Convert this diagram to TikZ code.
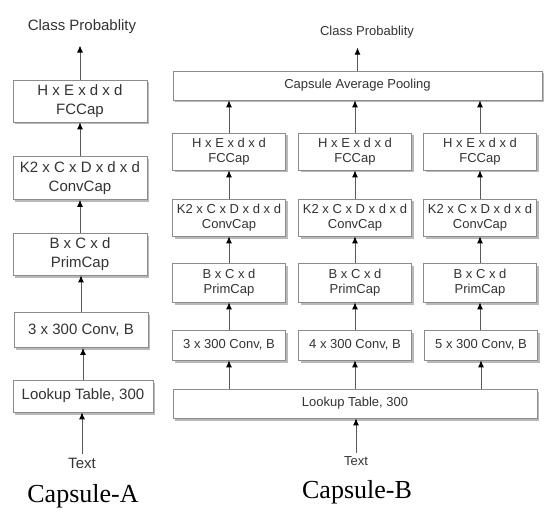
\documentclass[tikz,border=0pt]{standalone}
\usepackage{fontspec}
\setmainfont{Liberation Sans}
\newfontfamily\capsfont{Liberation Serif}
\usetikzlibrary{arrows.meta,shadows}

\begin{document}
\begin{tikzpicture}[x=1pt, y=-1pt]
	\tikzstyle{every node} = [text=black!80]
	\tikzstyle{capbox} = [draw=gray!90, line width=0.7pt, fill=white, align=center, inner sep=0pt, drop shadow={shadow xshift=2pt, shadow yshift=-2.5pt, fill=gray!55, opacity=1}]
	\tikzstyle{capA} = [capbox, font=\fontsize{15}{19}\selectfont, minimum width=134pt]
	\tikzstyle{capB} = [capbox, font=\fontsize{13}{15}\selectfont, minimum width=113pt]
	\tikzstyle{feed} = [-{Latex[length=7pt,width=6pt,color=black]}, draw=black!65, line width=0.9pt]
	\tikzstyle{capname} = [font=\capsfont\fontsize{26}{30}\selectfont, text=black]
	\path[use as bounding box, fill=white] (0,0) rectangle (546,513);
	% Capsule-A
	\node[font=\fontsize{15}{18}\selectfont] (probA) at (82,27) {Class Probablity};
	\node[capA, minimum height=42pt] (fcA) at (80,101) {H x E x d x d\\FCCap};
	\node[capA, minimum height=43pt] (ccA) at (80,178) {K2 x C x D x d x d\\ConvCap};
	\node[capA, minimum height=42pt] (pcA) at (80,254) {B x C x d\\PrimCap};
	\node[capA, minimum height=35pt] (convA) at (81,330) {3 x 300 Conv, B};
	\node[capA, minimum width=140pt, minimum height=32pt] (lookA) at (83,396) {Lookup Table, 300};
	\node[font=\fontsize{15}{18}\selectfont] (textA) at (82,463) {Text};
	\node[capname] (nameA) at (83,496) {Capsule-A};
	\draw[feed, shorten >=8pt] (fcA.north) -- (fcA.north |- probA.south);
	\draw[feed] (ccA.north) -- (fcA.south);
	\draw[feed] (pcA.north) -- (pcA.north |- ccA.south);
	\draw[feed] (convA.north) -- (convA.north |- pcA.south);
	\draw[feed] (lookA.north) -- (lookA.north |- convA.south);
	\draw[feed] (textA.north) -- (textA.north |- lookA.south);
	% Capsule-B
	\node[font=\fontsize{13}{15}\selectfont] (probB) at (367,32) {Class Probablity};
	\node[capB, minimum width=369pt, minimum height=29pt] (poolB) at (357.5,85.5) {Capsule Average Pooling};
	\node[capB, minimum height=37pt] (fcB1) at (229,151.5) {H x E x d x d\\FCCap};
	\node[capB, minimum height=37pt] (fcB2) at (355,151.5) {H x E x d x d\\FCCap};
	\node[capB, minimum height=37pt] (fcB3) at (480,151.5) {H x E x d x d\\FCCap};
	\node[capB, minimum height=37pt] (ccB1) at (229,217.5) {K2 x C x D x d x d\\ConvCap};
	\node[capB, minimum height=37pt] (ccB2) at (355,217.5) {K2 x C x D x d x d\\ConvCap};
	\node[capB, minimum height=37pt] (ccB3) at (480,217.5) {K2 x C x D x d x d\\ConvCap};
	\node[capB, minimum height=39pt] (pcB1) at (229,282.5) {B x C x d\\PrimCap};
	\node[capB, minimum height=39pt] (pcB2) at (355,282.5) {B x C x d\\PrimCap};
	\node[capB, minimum height=39pt] (pcB3) at (480,282.5) {B x C x d\\PrimCap};
	\node[capB, minimum height=30pt] (convB1) at (229,345) {3 x 300 Conv, B};
	\node[capB, minimum height=30pt] (convB2) at (355,345) {4 x 300 Conv, B};
	\node[capB, minimum height=30pt] (convB3) at (481,345) {5 x 300 Conv, B};
	\node[capB, minimum width=364pt, minimum height=29pt] (lookB) at (355,403.5) {Lookup Table, 300};
	\node[font=\fontsize{13}{15}\selectfont] (textB) at (356,461) {Text};
	\node[capname] (nameB) at (357,492) {Capsule-B};
	\draw[feed, shorten >=6pt] (poolB.north) -- (poolB.north |- probB.south);
	\draw[feed] (fcB1.north) -- (fcB1.north |- poolB.south);
	\draw[feed] (fcB2.north) -- (fcB2.north |- poolB.south);
	\draw[feed] (fcB3.north) -- (fcB3.north |- poolB.south);
	\draw[feed] (ccB1.north) -- (fcB1.south);
	\draw[feed] (ccB2.north) -- (fcB2.south);
	\draw[feed] (ccB3.north) -- (fcB3.south);
	\draw[feed] (pcB1.north) -- (ccB1.south);
	\draw[feed] (pcB2.north) -- (ccB2.south);
	\draw[feed] (pcB3.north) -- (ccB3.south);
	\draw[feed] (convB1.north) -- (pcB1.south);
	\draw[feed] (convB2.north) -- (pcB2.south);
	\draw[feed] (convB3.north -| pcB3) -- (pcB3.south);
	\draw[feed] (lookB.north -| convB1) -- (convB1.south);
	\draw[feed] (lookB.north -| convB2) -- (convB2.south);
	\draw[feed] (lookB.north -| convB3) -- (convB3.south);
	\draw[feed] (textB.north) -- (textB.north |- lookB.south);
\end{tikzpicture}
\end{document}
